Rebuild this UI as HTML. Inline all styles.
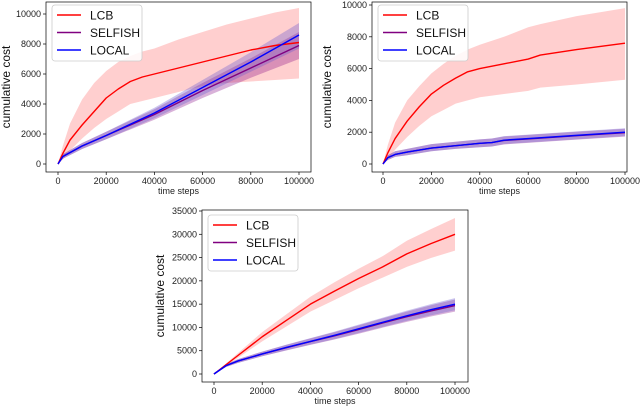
<!DOCTYPE html>
<html><head><meta charset="utf-8"><style>
html,body{margin:0;padding:0;background:#fff}
svg{display:block;font-family:"Liberation Sans","DejaVu Sans",sans-serif}
</style></head><body>
<svg id="fig" width="640" height="407" viewBox="0 0 640 407"></svg>
<script>
// ---- data (x in time steps) ----
const xs1 = [0,2000,5000,10000,15000,20000,25000,30000,35000,40000,50000,60000,70000,80000,90000,100000];
const lcb1 = [0,700,1600,2600,3500,4400,5000,5500,5800,6000,6400,6800,7200,7600,7900,8100];
const lcb1Hi = [0,1200,2700,4300,5400,6200,6800,7200,7500,7700,8300,8800,9300,9700,10100,10400];
const lcb1Lo = [0,300,900,1700,2400,3000,3500,4000,4200,4400,4800,5200,5400,5500,5600,5700];
const xsB1 = [0,2000,10000,20000,40000,60000,80000,100000];
const local1 = [0,500,1200,1900,3400,5100,6800,8600];
const local1Hi = [0,650,1400,2150,3750,5600,7450,9400];
const local1Lo = [0,350,1000,1650,3050,4600,6150,7700];
const selfish1 = [0,500,1200,1900,3300,4900,6400,7900];
const selfish1Hi = [0,650,1400,2150,3650,5400,7050,8800];
const selfish1Lo = [0,350,1000,1650,2950,4400,5750,7000];

const xs2 = [0,2000,5000,10000,15000,20000,25000,30000,35000,40000,50000,60000,65000,80000,100000];
const lcb2 = [0,700,1600,2700,3600,4400,4950,5400,5800,6000,6300,6600,6850,7200,7600];
const lcb2Hi = [0,1200,2600,4000,4900,5700,6300,6800,7200,7500,8000,8600,8800,9300,9800];
const lcb2Lo = [0,300,900,1700,2400,3000,3400,3800,4000,4200,4400,4600,4800,5000,5300];
const xsB2 = [0,2000,5000,10000,20000,30000,40000,45000,50000,60000,80000,100000];
const local2 = [0,400,600,750,1000,1150,1300,1350,1500,1600,1800,2000];
const local2Hi = [0,550,800,950,1250,1400,1550,1600,1750,1850,2050,2250];
const local2Lo = [0,250,450,550,800,950,1050,1100,1250,1350,1550,1750];
const selfish2 = [0,400,600,750,1000,1150,1300,1350,1480,1580,1780,1970];
const selfish2Hi = [0,550,800,950,1250,1400,1550,1600,1730,1830,2030,2220];
const selfish2Lo = [0,250,450,550,800,950,1050,1100,1230,1330,1530,1720];

const xs3 = [0,10000,20000,30000,40000,50000,60000,70000,80000,90000,100000];
const lcb3 = [0,4000,8000,11500,15000,17800,20500,23000,25800,28000,30000];
const lcb3Hi = [0,4500,9000,12800,16600,19700,22600,25300,28600,31100,33500];
const lcb3Lo = [0,3500,7000,10200,13400,15900,18400,20700,23000,24900,26500];
const xsB3 = [0,5000,10000,20000,30000,40000,50000,60000,70000,80000,90000,100000];
const local3 = [0,1800,2800,4300,5700,7000,8300,9700,11100,12500,13800,15000];
const local3Hi = [0,2100,3200,4800,6300,7700,9100,10600,12100,13600,15000,16300];
const local3Lo = [0,1500,2400,3800,5100,6300,7500,8800,10100,11400,12600,13700];
const selfish3 = [0,1800,2800,4300,5650,6950,8200,9550,10950,12300,13550,14700];
const selfish3Hi = [0,2100,3200,4800,6250,7650,9000,10450,11950,13400,14750,16000];
const selfish3Lo = [0,1500,2400,3800,5050,6250,7400,8650,9950,11200,12350,13400];

const xTicks = [0,20000,40000,60000,80000,100000];
const yTicks12 = [0,2000,4000,6000,8000,10000];
const yTicks3 = [0,5000,10000,15000,20000,25000,30000,35000];

const NS="http://www.w3.org/2000/svg";
const fig=document.getElementById('fig');
function mk(tag,attrs,parent){const e=document.createElementNS(NS,tag);for(const k in attrs)e.setAttribute(k,attrs[k]);(parent||fig).appendChild(e);return e;}

function panel(p){
  const g=mk('g',{});
  
  
  const sx=v=>p.x0+(v/100000)*(p.x1-p.x0);
  const sy=v=>p.y0-(v/p.ymax)*(p.y0-p.ymaxPx);
  function band(xs,lo,hi,color,op,name){
    let d='M'+xs.map((x,i)=>sx(x)+','+sy(hi[i])).join('L');
    for(let i=xs.length-1;i>=0;i--)d+='L'+sx(xs[i])+','+sy(lo[i]);
    const e=mk('path',{d:d+'Z',fill:color,'fill-opacity':op,stroke:'none'},g);
    
    
  }
  function line(xs,ys,color,name){
    const e=mk('path',{d:'M'+xs.map((x,i)=>sx(x)+','+sy(ys[i])).join('L'),fill:'none',stroke:color,'stroke-width':1.4,'stroke-linejoin':'round'},g);
    
    
  }
  band(p.xs,p.lcbLo,p.lcbHi,'#ff6060',0.3,'lcb-band');
  band(p.xsB,p.selLo,p.selHi,'#800080',0.3,'selfish-band');
  band(p.xsB,p.locLo,p.locHi,'#6a5acd',0.35,'local-band');
  line(p.xs,p.lcb,'#ff0000','lcb-line');
  line(p.xsB,p.sel,'#800080','selfish-line');
  line(p.xsB,p.loc,'#0000ff','local-line');
  const fr=mk('rect',{x:p.L,y:p.T,width:p.R-p.L,height:p.B-p.T,fill:'none',stroke:'#000','stroke-width':0.7},g);
  
  
  xTicks.forEach(v=>{
    mk('line',{x1:sx(v),x2:sx(v),y1:p.B,y2:p.B+3,stroke:'#000','stroke-width':0.7},g);
    const t=mk('text',{x:sx(v),y:p.B+12,'font-size':9,'text-anchor':'middle',fill:'#222'},g);
    t.textContent=v;
    
    
  });
  p.yTicks.forEach(v=>{
    mk('line',{x1:p.L-3,x2:p.L,y1:sy(v),y2:sy(v),stroke:'#000','stroke-width':0.7},g);
    const t=mk('text',{x:p.L-5,y:sy(v)+3,'font-size':9,'text-anchor':'end',fill:'#222'},g);
    t.textContent=v;
    
    
  });
  const xl=mk('text',{x:(p.L+p.R)/2,y:p.B+22,'font-size':9,'text-anchor':'middle',fill:'#222'},g);
  xl.textContent='time steps';
  
  
  const yl=mk('text',{x:0,y:0,'font-size':12,'text-anchor':'middle',fill:'#111',transform:'translate('+p.ylx+','+((p.T+p.B)/2)+') rotate(-90)'},g);
  yl.textContent='cumulative cost';
  
  
  const lg=mk('g',{},g);
  
  
  mk('rect',{x:p.lx,y:p.ly,width:90,height:56,rx:3,fill:'#fff','fill-opacity':0.85,stroke:'#ccc','stroke-width':0.8},lg);
  [['LCB','#ff0000'],['SELFISH','#800080'],['LOCAL','#0000ff']].forEach((it,i)=>{
    const yy=p.ly+10+i*17.5;
    const ln=mk('line',{x1:p.lx+5,x2:p.lx+29,y1:yy,y2:yy,stroke:it[1],'stroke-width':1.5},lg);
    
    
    const t=mk('text',{x:p.lx+38,y:yy+4.5,'font-size':12,fill:'#111'},lg);
    t.textContent=it[0];
    
    
  });
}

panel({name:'chart-top-left',L:46,R:311,T:2,B:172,x0:58,x1:299,y0:164,ymaxPx:14,ymax:10000,yTicks:yTicks12,ylx:10,lx:52,ly:5,
  xs:xs1,lcb:lcb1,lcbHi:lcb1Hi,lcbLo:lcb1Lo,xsB:xsB1,loc:local1,locHi:local1Hi,locLo:local1Lo,sel:selfish1,selHi:selfish1Hi,selLo:selfish1Lo});
panel({name:'chart-top-right',L:372,R:627,T:2,B:172,x0:383,x1:625,y0:164,ymaxPx:5,ymax:10000,yTicks:yTicks12,ylx:331,lx:378,ly:5,
  xs:xs2,lcb:lcb2,lcbHi:lcb2Hi,lcbLo:lcb2Lo,xsB:xsB2,loc:local2,locHi:local2Hi,locLo:local2Lo,sel:selfish2,selHi:selfish2Hi,selLo:selfish2Lo});
panel({name:'chart-bottom',L:202,R:468,T:210,B:382,x0:214,x1:455,y0:374,ymaxPx:211,ymax:35000,yTicks:yTicks3,ylx:164,lx:208,ly:215,
  xs:xs3,lcb:lcb3,lcbHi:lcb3Hi,lcbLo:lcb3Lo,xsB:xsB3,loc:local3,locHi:local3Hi,locLo:local3Lo,sel:selfish3,selHi:selfish3Hi,selLo:selfish3Lo});
</script>
</body></html>
